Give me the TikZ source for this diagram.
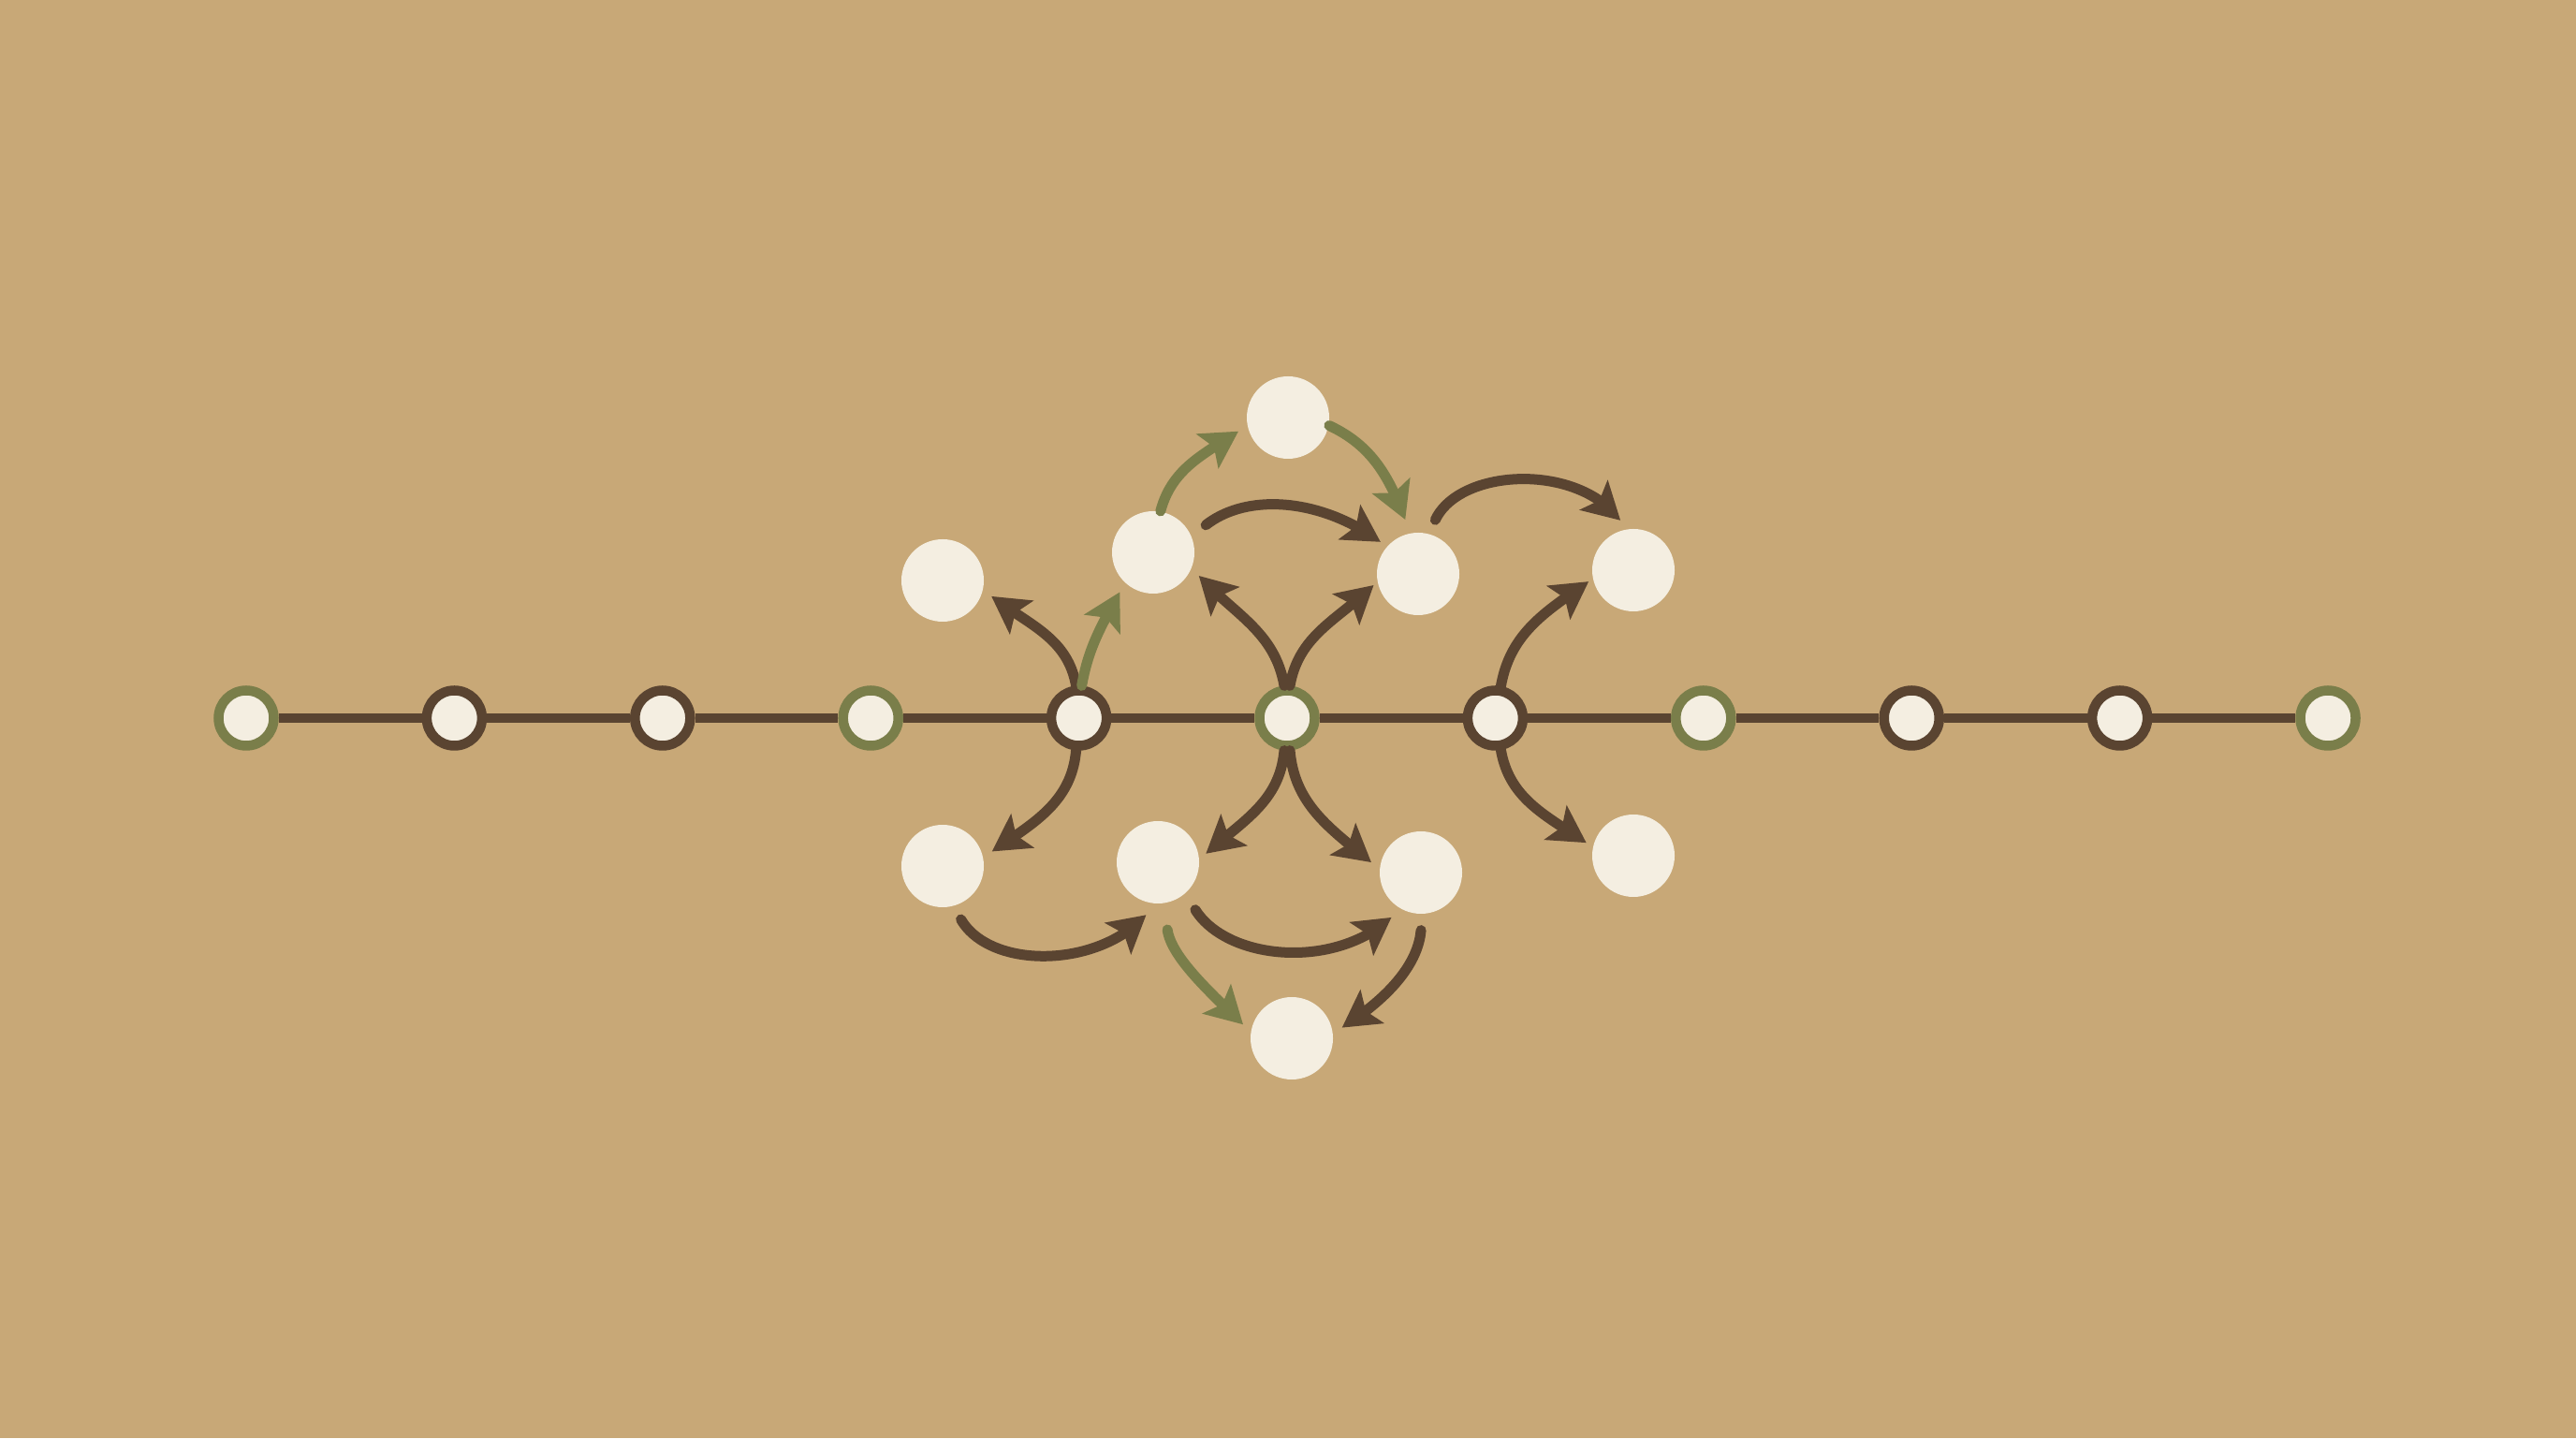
\documentclass[tikz,border=0pt]{standalone}
\usepackage{xcolor}
\usepackage{tikz}
\usetikzlibrary{arrows.meta}
\usetikzlibrary{bending}

\definecolor{sand}{HTML}{C8A877}
\definecolor{bark}{HTML}{5A4431}
\definecolor{moss}{HTML}{7A7E4A}
\definecolor{cream}{HTML}{F4EEE1}

\tikzset{
    station/.style={circle, draw=bark, fill=cream, line width=1.05mm, minimum size=5.9mm, inner sep=0pt},
    bead/.style={circle, fill=cream, minimum size=8.8mm, inner sep=0pt},
    track/.style={draw=bark, line width=0.93mm},
    jump/.style={draw=bark, line width=1.1mm, line cap=round, -{Stealth[length=3.9mm,width=4.3mm,inset=0.8mm,flex]}, shorten >=1.1mm},
    gjump/.style={jump, draw=moss},
}

\begin{document}
\begin{tikzpicture}
    % Background
    \fill[sand] (0,0) rectangle (27.52,15.36);
    \useasboundingbox (0,0) rectangle (27.52,15.36);

    % Stations on the line
    \foreach \i/\c in {0/moss,1/bark,2/bark,3/moss,4/bark,5/moss,6/bark,7/moss,8/bark,9/bark,10/moss} {
        \node[station, draw=\c] (n\i) at ({2.63+2.224*\i},7.69) {};
    }
    \foreach \i/\j in {0/1,1/2,2/3,3/4,4/5,5/6,6/7,7/8,8/9,9/10} {
        \draw[track] (n\i) -- (n\j);
    }

    % Beads above the line
    \node[bead] (u1) at (10.07,9.16) {};
    \node[bead] (u2) at (12.32,9.46) {};
    \node[bead] (u3) at (13.76,10.90) {};
    \node[bead] (u4) at (15.15,9.23) {};
    \node[bead] (u5) at (17.45,9.27) {};

    % Beads below the line
    \node[bead] (l1) at (10.07,6.11) {};
    \node[bead] (l2) at (12.37,6.15) {};
    \node[bead] (l3) at (15.18,6.04) {};
    \node[bead] (l4) at (17.45,6.22) {};
    \node[bead] (l5) at (13.80,4.27) {};

    % Upward jumps
    \draw[jump] (n4.95) to[out=100,in=-40] (u1.-13);
    \draw[gjump] (n4.85) to[out=80,in=-118] (u2.-133);
    \draw[gjump] (u2.80) to[out=75,in=-145] (u3.191);
    \draw[gjump, shorten >=1.5mm] (u3.-11) to[out=-25,in=110] (u4.101);
    \draw[jump, shorten <=1.9mm, shorten >=0.8mm] (u2.23) to[out=38,in=142] (u4.139);
    \draw[jump, shorten <=1.6mm] (u4.75) to[out=65,in=120] (u5.100);
    \draw[jump] (n5.95) to[out=100,in=-50] (u2.-22);
    \draw[jump, shorten >=0.5mm] (n5.85) to[out=80,in=-135] (u4.191);
    \draw[jump, shorten >=0.5mm] (n6.80) to[out=80,in=-145] (u5.192);

    % Downward jumps
    \draw[jump] (n4.-95) to[out=-95,in=35] (l1.12);
    \draw[jump, shorten >=0.9mm] (n5.-95) to[out=-95,in=43] (l2.4);
    \draw[jump] (n5.-85) to[out=-85,in=140] (l3.175);
    \draw[jump, shorten >=0.8mm] (n6.-80) to[out=-80,in=145] (l4.168);
    \draw[jump, shorten <=1.6mm, shorten >=1.5mm] (l1.-75) to[out=-60,in=-125] (l2.-94);
    \draw[jump, shorten <=2mm, shorten >=1.3mm] (l2.-49) to[out=-58,in=-132] (l3.-120);
    \draw[gjump, shorten <=2.8mm] (l2.-82) to[out=-82,in=135] (l5.171);
    \draw[jump, shorten <=1.7mm, shorten >=1.1mm] (l3.-88) to[out=-95,in=32] (l5.7);
\end{tikzpicture}
\end{document}
